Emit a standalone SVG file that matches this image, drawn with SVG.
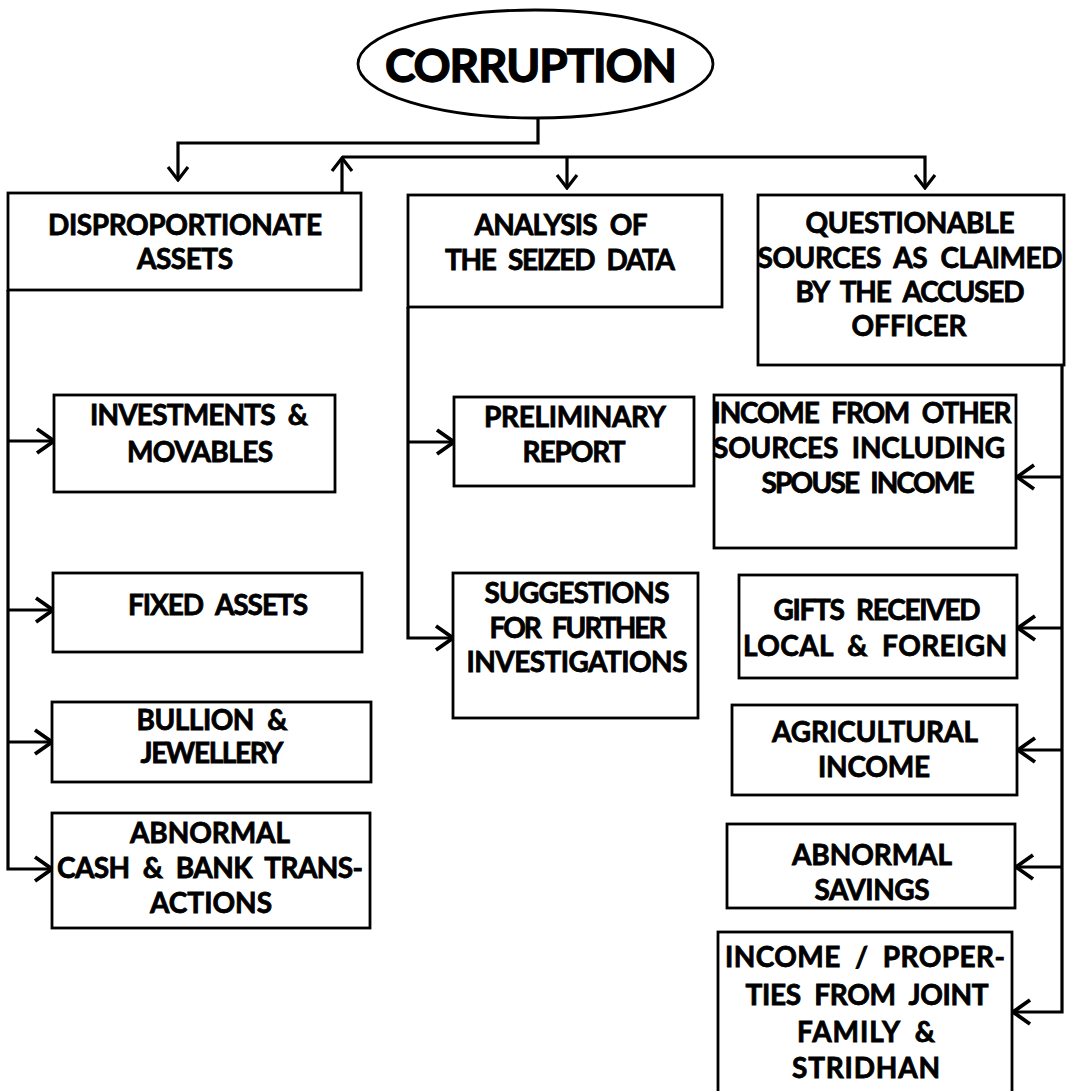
<svg xmlns="http://www.w3.org/2000/svg" width="1069" height="1091" viewBox="0 0 1069 1091">
<defs>
<style>
.box{fill:#fff;stroke:#000;stroke-width:2.8}
.t{font-family:Lato,"Liberation Sans",sans-serif;font-weight:bold;font-size:28px;fill:#000;stroke:#000;stroke-width:0.8;text-anchor:middle;word-spacing:7px}
.title{font-family:Lato,"Liberation Sans",sans-serif;font-weight:bold;font-size:46px;fill:#000;stroke:#000;stroke-width:1.3;text-anchor:middle}
.c{fill:none;stroke:#000;stroke-width:3.2}
</style>
<marker id="ah" markerUnits="userSpaceOnUse" viewBox="-21 -15 23 30" markerWidth="23" markerHeight="30" refX="0" refY="0" orient="auto">
<path d="M-17,-12 L0,0 L-17,12" fill="none" stroke="#000" stroke-width="3.8"/>
</marker>
<marker id="as" markerUnits="userSpaceOnUse" viewBox="-17 -13 19 26" markerWidth="19" markerHeight="26" refX="0" refY="0" orient="auto">
<path d="M-13,-10 L0,0 L-13,10" fill="none" stroke="#000" stroke-width="3.2"/>
</marker>
</defs>
<rect width="1069" height="1091" fill="#fff"/>

<g id="connectors">
<path class="c" d="M538,118 V143 H178 V180" marker-end="url(#as)"/>
<path class="c" d="M342,193 V158" marker-end="url(#as)"/>
<path class="c" d="M342,157 H925 V188" marker-end="url(#as)"/>
<path class="c" d="M567,157 V188" marker-end="url(#as)"/>
<path class="c" d="M8,290 V869 H52" marker-end="url(#ah)"/>
<path class="c" d="M8,441 H54" marker-end="url(#ah)"/>
<path class="c" d="M8,610 H53" marker-end="url(#ah)"/>
<path class="c" d="M8,742 H52" marker-end="url(#ah)"/>
<path class="c" d="M408,307 V638 H453" marker-end="url(#ah)"/>
<path class="c" d="M408,442 H454" marker-end="url(#ah)"/>
<path class="c" d="M1062,365 V1012 H1013" marker-end="url(#ah)"/>
<path class="c" d="M1062,477 H1017" marker-end="url(#ah)"/>
<path class="c" d="M1062,628 H1018" marker-end="url(#ah)"/>
<path class="c" d="M1062,750 H1018" marker-end="url(#ah)"/>
<path class="c" d="M1062,867 H1016" marker-end="url(#ah)"/>
</g>

<g id="corruption">
<ellipse cx="535.5" cy="64" rx="177.5" ry="54" fill="#fff" stroke="#000" stroke-width="2.8"/>
<text class="title" x="531" y="82" textLength="292">CORRUPTION</text>
</g>

<g id="disproportionate-assets">
<rect class="box" x="8" y="193" width="353" height="97"/>
<text class="t" x="185" y="235" textLength="274">DISPROPORTIONATE</text>
<text class="t" x="185" y="269" textLength="96">ASSETS</text>
</g>

<g id="analysis">
<rect class="box" x="408" y="195" width="314" height="112"/>
<text class="t" x="561" y="235" textLength="173">ANALYSIS OF</text>
<text class="t" x="560" y="270" textLength="230">THE SEIZED DATA</text>
</g>

<g id="questionable">
<rect class="box" x="758" y="195" width="306" height="170"/>
<text class="t" x="910" y="233" textLength="209">QUESTIONABLE</text>
<text class="t" x="910" y="268" textLength="305">SOURCES AS CLAIMED</text>
<text class="t" x="910" y="302" textLength="229">BY THE ACCUSED</text>
<text class="t" x="909" y="336" textLength="115">OFFICER</text>
</g>

<g id="investments">
<rect class="box" x="54" y="395" width="281" height="97"/>
<text class="t" x="199" y="425" textLength="218">INVESTMENTS &amp;</text>
<text class="t" x="200" y="462" textLength="146">MOVABLES</text>
</g>

<g id="fixed-assets">
<rect class="box" x="53" y="573" width="309" height="79"/>
<text class="t" x="218" y="615" textLength="180">FIXED ASSETS</text>
</g>

<g id="bullion">
<rect class="box" x="52" y="702" width="319" height="80"/>
<text class="t" x="212" y="730" textLength="151">BULLION &amp;</text>
<text class="t" x="212" y="763" textLength="143">JEWELLERY</text>
</g>

<g id="abnormal-cash">
<rect class="box" x="52" y="813" width="318" height="115"/>
<text class="t" x="210" y="843" textLength="160">ABNORMAL</text>
<text class="t" x="210" y="878" textLength="306">CASH &amp; BANK TRANS-</text>
<text class="t" x="211" y="913" textLength="122">ACTIONS</text>
</g>

<g id="preliminary">
<rect class="box" x="454" y="397" width="240" height="89"/>
<text class="t" x="575" y="427" textLength="182">PRELIMINARY</text>
<text class="t" x="574" y="462" textLength="103">REPORT</text>
</g>

<g id="suggestions">
<rect class="box" x="453" y="573" width="245" height="145"/>
<text class="t" x="577" y="603" textLength="185">SUGGESTIONS</text>
<text class="t" x="578" y="638" textLength="177">FOR FURTHER</text>
<text class="t" x="577" y="672" textLength="221">INVESTIGATIONS</text>
</g>

<g id="other-income">
<rect class="box" x="714" y="395" width="302" height="153"/>
<text class="t" x="862" y="423" textLength="299">INCOME FROM OTHER</text>
<text class="t" x="859" y="458" textLength="292">SOURCES INCLUDING</text>
<text class="t" x="868" y="493" textLength="213">SPOUSE INCOME</text>
</g>

<g id="gifts">
<rect class="box" x="739" y="575" width="278" height="103"/>
<text class="t" x="877" y="620" textLength="207">GIFTS RECEIVED</text>
<text class="t" x="875" y="656" textLength="264">LOCAL &amp; FOREIGN</text>
</g>

<g id="agricultural">
<rect class="box" x="732" y="705" width="285" height="90"/>
<text class="t" x="875" y="742" textLength="206">AGRICULTURAL</text>
<text class="t" x="874" y="777" textLength="112">INCOME</text>
</g>

<g id="abnormal-savings">
<rect class="box" x="727" y="824" width="288" height="84"/>
<text class="t" x="872" y="865" textLength="160">ABNORMAL</text>
<text class="t" x="872" y="900" textLength="115">SAVINGS</text>
</g>

<g id="joint-family">
<rect class="box" x="718" y="932" width="294" height="170"/>
<text class="t" x="865" y="967" textLength="280">INCOME / PROPER-</text>
<text class="t" x="867" y="1005" textLength="243">TIES FROM JOINT</text>
<text class="t" x="866" y="1042" textLength="138">FAMILY &amp;</text>
<text class="t" x="866" y="1078" textLength="148">STRIDHAN</text>
</g>
</svg>
